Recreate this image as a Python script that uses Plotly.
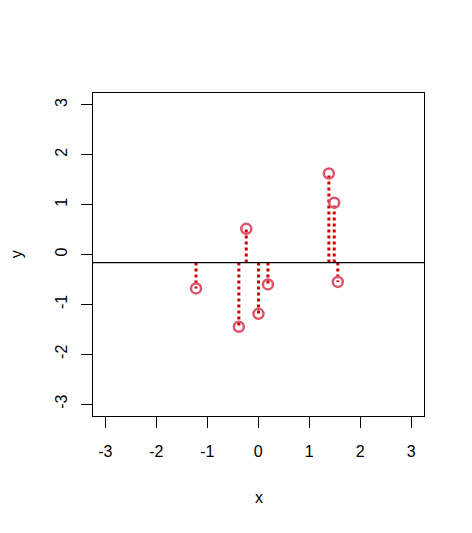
import plotly.graph_objects as go

x_vals = [-1.22, -0.38, -0.235, 0.005, 0.19, 1.385, 1.49, 1.56]
y_vals = [-0.68, -1.45, 0.515, -1.19, -0.60, 1.625, 1.04, -0.55]
tick_vals = [-3, -2, -1, 0, 1, 2, 3]
tick_text = ["-3", "-2", "-1", "0", "1", "2", "3"]

y_mean = sum(y_vals) / len(y_vals)

seg_x, seg_y = [], []
for xv, yv in zip(x_vals, y_vals):
    seg_x += [xv, xv, None]
    seg_y += [y_mean, yv, None]

fig = go.Figure()
fig.add_trace(go.Scatter(x=seg_x, y=seg_y, mode="lines",
                         line=dict(color="#CD0000", width=3, dash="dot"),
                         hoverinfo="skip", showlegend=False))
fig.add_trace(go.Scatter(x=x_vals, y=y_vals, mode="markers",
                         marker=dict(symbol="circle-open", size=10, color="#DF536B",
                                     line=dict(width=2.5, color="#DF536B")),
                         showlegend=False))
fig.add_shape(type="line", xref="paper", x0=0, x1=1, yref="y", y0=y_mean, y1=y_mean,
              line=dict(color="black", width=1.2))

font = dict(family="Liberation Sans, Arial, sans-serif", size=16, color="black")
axis_common = dict(showline=True, mirror=True, linecolor="black", linewidth=1,
                   ticks="outside", ticklen=11, tickwidth=1, tickcolor="black",
                   showgrid=False, zeroline=False, tickvals=tick_vals, ticktext=tick_text,
                   tickfont=font)
fig.update_layout(
    width=464, height=525,
    margin=dict(l=85, r=48, t=85, b=117),
    plot_bgcolor="white", paper_bgcolor="white",
    xaxis=dict(range=[-3.24, 3.25], ticklabelstandoff=10, **axis_common),
    yaxis=dict(range=[-3.24, 3.24], tickangle=-90, ticklabelstandoff=8, **axis_common),
    annotations=[
        dict(text="x", xref="paper", yref="paper", x=0.5, y=-0.252, showarrow=False,
             font=font, xanchor="center", yanchor="middle"),
        dict(text="y", xref="paper", yref="paper", x=-0.23, y=0.5, showarrow=False,
             font=font, textangle=-90, xanchor="center", yanchor="middle"),
    ],
)
fig.write_html("out.html")
